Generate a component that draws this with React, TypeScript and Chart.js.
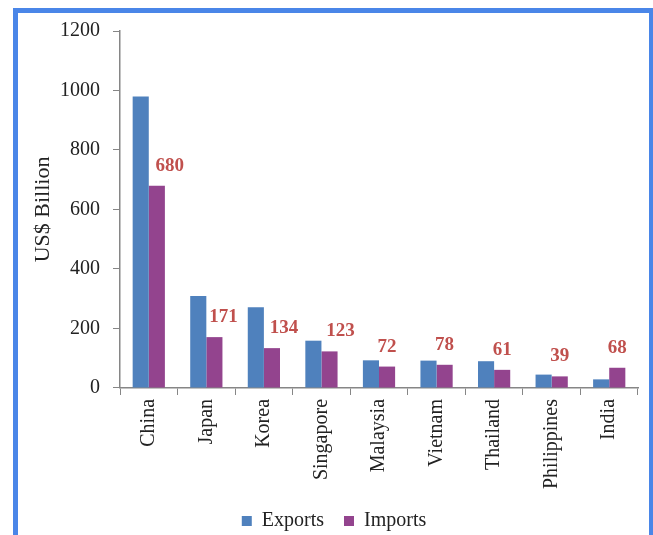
import React, { useEffect, useRef } from "react";
import { Chart, registerables } from "chart.js";

Chart.register(...registerables);

const categories = ["China", "Japan", "Korea", "Singapore", "Malaysia", "Vietnam", "Thailand", "Philippines", "India"];
const exportsValues = [980, 309, 271, 159, 93, 92, 90, 45, 29];
const importsValues = [680, 171, 134, 123, 72, 78, 61, 39, 68];
const yTicks = [0, 200, 400, 600, 800, 1000, 1200];

const FONT = "'Liberation Serif', 'Times New Roman', serif";

const importLabelsPlugin = {
  id: "importLabels",
  afterDatasetsDraw(chart: any) {
    const meta = chart.getDatasetMeta(1);
    const opts = chart.options.plugins.importLabels || {};
    const dx: number[] = opts.xOffsets || [];
    const ctx = chart.ctx;
    ctx.save();
    ctx.font = "bold 19px " + FONT;
    ctx.fillStyle = "#C0504D";
    ctx.textAlign = "center";
    ctx.textBaseline = "alphabetic";
    meta.data.forEach((el: any, i: number) => {
      const v = chart.data.datasets[1].data[i];
      ctx.fillText(String(v), el.x + (dx[i] || 0), el.y - 15);
    });
    ctx.restore();
  },
};

export default function App() {
  const ref = useRef<HTMLCanvasElement>(null);
  useEffect(() => {
    if (!ref.current) return;
    const chart = new Chart(ref.current, {
      type: "bar",
      data: {
        labels: categories,
        datasets: [
          { label: "Exports", data: exportsValues, backgroundColor: "#4F81BD", borderWidth: 0 },
          { label: "Imports", data: importsValues, backgroundColor: "#93448E", borderWidth: 0 },
        ],
      },
      plugins: [importLabelsPlugin],
      options: {
        animation: false,
        responsive: false,
        maintainAspectRatio: false,
        layout: { padding: { left: 30, right: 15, top: 31, bottom: -6 } },
        datasets: { bar: { categoryPercentage: 0.56, barPercentage: 1 } },
        plugins: {
          tooltip: { enabled: false },
          importLabels: { xOffsets: [13, 9, 12, 11, 0, 0, 0, 0, 0] },
          legend: {
            position: "bottom",
            labels: {
              boxWidth: 10,
              boxHeight: 10,
              padding: 20,
              color: "#222",
              font: { family: FONT, size: 20 },
            },
          },
        } as any,
        scales: {
          x: {
            afterFit: (s: any) => {
              s.height = s.height - 2;
            },
            grid: { drawOnChartArea: false, drawTicks: true, tickLength: 7, color: "#868686", offset: true },
            border: { color: "#868686", width: 1.5 },
            ticks: {
              autoSkip: false,
              minRotation: 90,
              maxRotation: 90,
              padding: 4,
              color: "#222",
              font: { family: FONT, size: 20 },
            },
          },
          y: {
            min: 0,
            max: 1200,
            afterBuildTicks: (s: any) => {
              s.ticks = yTicks.map((v) => ({ value: v }));
            },
            afterFit: (s: any) => {
              s.width = 90;
            },
            grid: { drawOnChartArea: false, drawTicks: true, tickLength: 7, color: "#868686" },
            border: { color: "#868686", width: 1.5 },
            ticks: {
              padding: 13,
              color: "#222",
              font: { family: FONT, size: 20 },
              callback: (v: any) => String(v),
            },
            title: {
              display: true,
              text: "US$ Billion",
              color: "#222",
              font: { family: FONT, size: 22 },
              padding: { top: 0, bottom: 2 },
            },
          },
        },
      },
    });
    return () => chart.destroy();
  }, []);

  return (
    <div style={{ position: "fixed", left: 0, top: 0, width: 653, height: 535, overflow: "hidden", background: "#fff" }}>
      <canvas ref={ref} width={653} height={535} style={{ position: "absolute", left: 0, top: 0, width: 653, height: 535 }} />
      <div
        style={{
          position: "absolute",
          left: 13,
          top: 8,
          width: 700,
          height: 600,
          border: "5px solid #4A86E8",
          boxSizing: "border-box",
          pointerEvents: "none",
        }}
      />
      <div style={{ position: "absolute", left: 649, top: 8, width: 4, height: 535, background: "#4A86E8" }} />
    </div>
  );
}
